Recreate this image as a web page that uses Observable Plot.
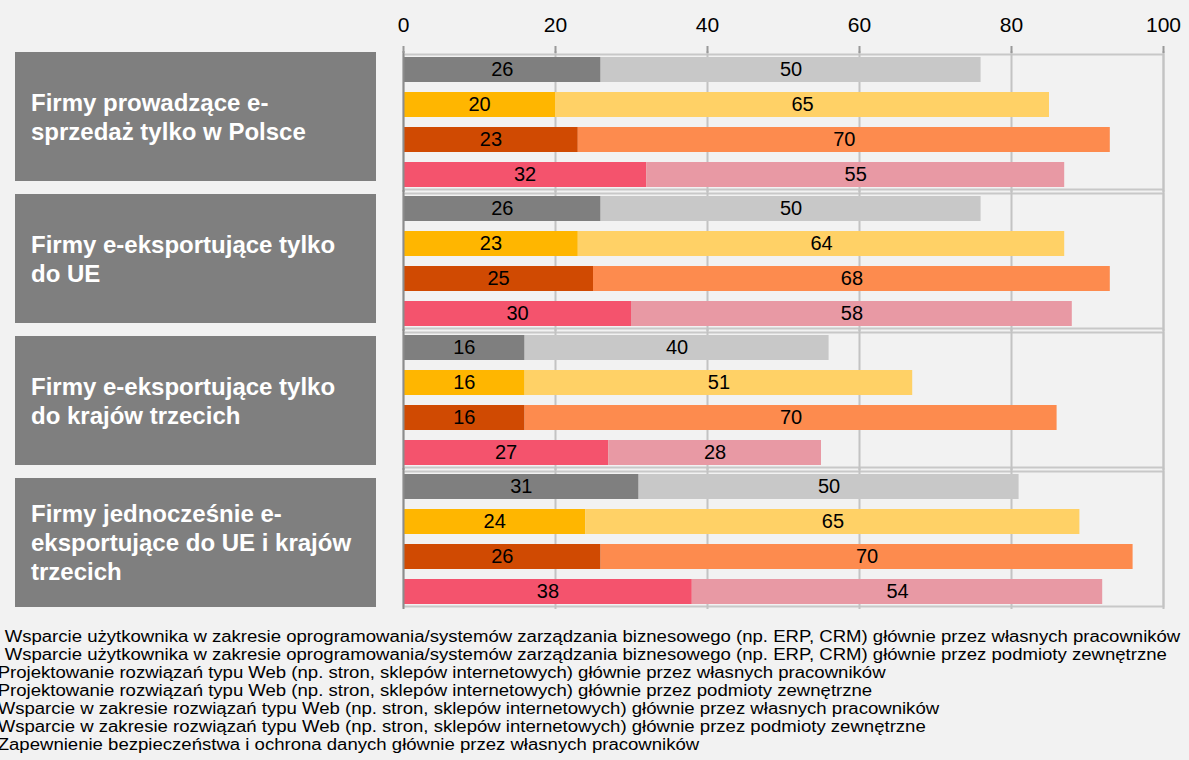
<!DOCTYPE html>
<html><head><meta charset="utf-8">
<script src="https://cdn.jsdelivr.net/npm/d3@7"></script>
<script src="https://cdn.jsdelivr.net/npm/@observablehq/plot@0.6"></script>
<style>
html,body{margin:0;padding:0;background:#f2f2f2;}
body{width:1189px;height:760px;overflow:hidden;position:relative;font-family:"Liberation Sans",Arial,sans-serif;}
#chart{position:absolute;left:0;top:0;}
#boxes{position:absolute;left:15px;top:52px;width:361px;display:flex;flex-direction:column;gap:13px;}
#boxes div{height:129px;background:#7f7f7f;color:#fff;font-weight:bold;font-size:24px;line-height:29px;padding-left:16px;box-sizing:border-box;display:flex;align-items:center;white-space:pre-line;}
#legend{position:absolute;left:0;top:628px;font-size:16px;line-height:18px;color:#000;white-space:nowrap;transform:scaleX(1.16);transform-origin:0 0;}
#legend div{margin-left:-2px;}
#legend div:nth-child(-n+2){margin-left:4px;}
</style></head>
<body>
<div id="chart"></div>
<div id="boxes"></div>
<div id="legend"></div>
<script>
const groups = [
  "Firmy prowadzące e-\nsprzedaż tylko w Polsce",
  "Firmy e-eksportujące tylko\ndo UE",
  "Firmy e-eksportujące tylko\ndo krajów trzecich",
  "Firmy jednocześnie e-\neksportujące do UE i krajów\ntrzecich"
];
const series = ["ERP/CRM", "Projektowanie Web", "Wsparcie Web", "Bezpieczeństwo"];
const ownValues = [[26, 20, 23, 32], [26, 23, 25, 30], [16, 16, 16, 27], [31, 24, 26, 38]];
const extValues = [[50, 65, 70, 55], [50, 64, 68, 58], [40, 51, 70, 28], [50, 65, 70, 54]];
const ownColors = ["#7f7f7f", "#ffb600", "#d04a02", "#f4536d"];
const extColors = ["#c8c8c8", "#ffd166", "#fd8b4e", "#e899a4"];
const xTicks = [0, 20, 40, 60, 80, 100];
const legendItems = [
  "Wsparcie użytkownika w zakresie oprogramowania/systemów zarządzania biznesowego (np. ERP, CRM) głównie przez własnych pracowników",
  "Wsparcie użytkownika w zakresie oprogramowania/systemów zarządzania biznesowego (np. ERP, CRM) głównie przez podmioty zewnętrzne",
  "Projektowanie rozwiązań typu Web (np. stron, sklepów internetowych) głównie przez własnych pracowników",
  "Projektowanie rozwiązań typu Web (np. stron, sklepów internetowych) głównie przez podmioty zewnętrzne",
  "Wsparcie w zakresie rozwiązań typu Web (np. stron, sklepów internetowych) głównie przez własnych pracowników",
  "Wsparcie w zakresie rozwiązań typu Web (np. stron, sklepów internetowych) głównie przez podmioty zewnętrzne",
  "Zapewnienie bezpieczeństwa i ochrona danych głównie przez własnych pracowników"
];

const rows = [];
groups.forEach((g, gi) => {
  series.forEach((s, si) => {
    const own = ownValues[gi][si], ext = extValues[gi][si];
    rows.push({group: g, series: s, x1: 0, x2: own, value: own, fill: ownColors[si]});
    rows.push({group: g, series: s, x1: own, x2: own + ext, value: ext, fill: extColors[si]});
  });
});

const plot = Plot.plot({
  width: 1189, height: 612,
  marginLeft: 403, marginRight: 26, marginTop: 53, marginBottom: 5,
  style: {background: "transparent", fontFamily: "'Liberation Sans', Arial, sans-serif", fontSize: "20px", overflow: "visible"},
  x: {domain: [0, 100]},
  y: {domain: series, axis: null, paddingInner: 0.29, paddingOuter: 0.06},
  fy: {domain: groups, axis: null, paddingInner: 0.03, paddingOuter: 0},
  color: {type: "identity"},
  facet: {data: rows, y: "group"},
  marks: [
    Plot.frame({stroke: "#c8c8c8", strokeWidth: 2}),
    Plot.ruleX(xTicks.slice(1), {stroke: "#c3c3c3", strokeWidth: 2, insetTop: -3, insetBottom: -3}),
    Plot.barX(rows, {y: "series", x1: "x1", x2: "x2", fill: "fill"}),
    Plot.ruleX([0], {stroke: "#8c8c8c", strokeWidth: 2, insetTop: -3, insetBottom: -3}),
    Plot.text(rows, {y: "series", x: d => (d.x1 + d.x2) / 2, text: d => String(d.value), fill: "black", fontSize: 20}),
    Plot.axisX({anchor: "top", ticks: xTicks, tickSize: 7, tickPadding: 14, color: "black", stroke: "#999", strokeWidth: 2, fontSize: 21, line: true, dy: -2})
  ]
});
document.getElementById("chart").appendChild(plot);

const boxes = document.getElementById("boxes");
groups.forEach(g => { const d = document.createElement("div"); d.textContent = g; boxes.appendChild(d); });
const legend = document.getElementById("legend");
legendItems.forEach(t => { const d = document.createElement("div"); d.textContent = t; legend.appendChild(d); });
</script>
</body></html>
